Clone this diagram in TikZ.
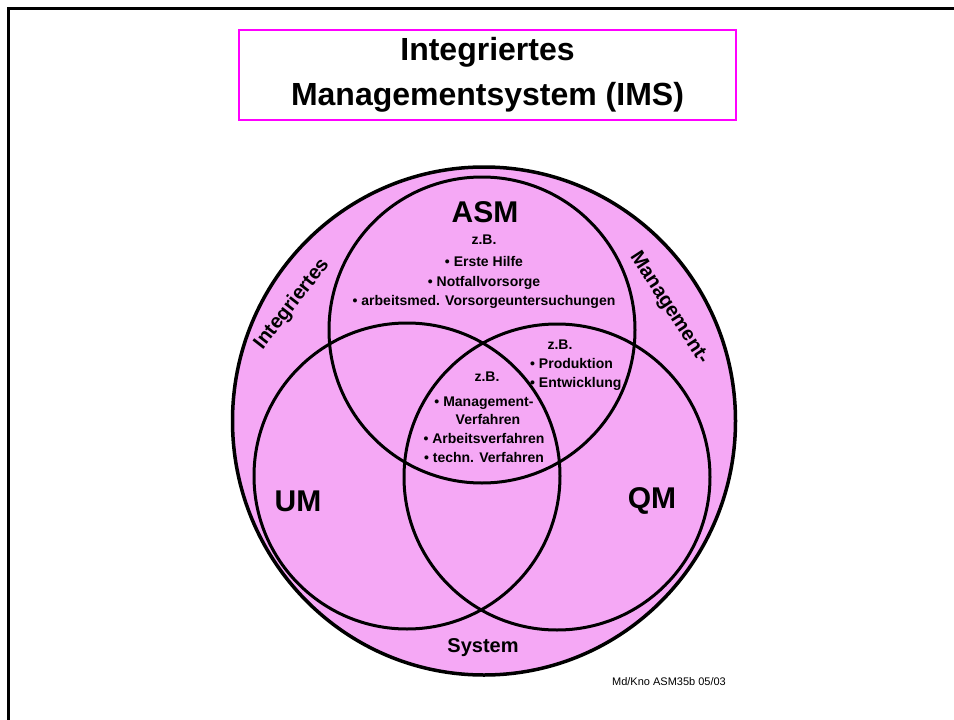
\documentclass[tikz,border=0pt]{standalone}
\usepackage{fontspec}
\setmainfont{Liberation Sans}
\usetikzlibrary{shapes.geometric,positioning}
\definecolor{imspink}{RGB}{245,168,245}
\definecolor{imsmagenta}{RGB}{255,0,255}
\tikzset{
frame/.style = {line width=2.5pt},
titlebox/.style = {draw=imsmagenta, line width=2.5pt, fill=white, rectangle, minimum width=497pt, minimum height=90pt, align=center, font=\fontsize{32}{45}\selectfont\bfseries},
outer/.style = {draw, ellipse, line width=3.5pt, fill=imspink, minimum width=503pt, minimum height=508pt, inner sep=0pt},
ring/.style = {draw, circle, line width=3pt, minimum size=306pt, inner sep=0pt},
setname/.style = {font=\fontsize{30}{36}\selectfont\bfseries},
item/.style = {inner sep=0pt, text height=10pt, text depth=3pt, font=\fontsize{14}{17}\selectfont\bfseries},
arclabel/.style = {inner sep=0pt, font=\fontsize{20}{24}\selectfont\bfseries},
stamp/.style = {font=\fontsize{11}{13}\selectfont}
}

\begin{document}
\begin{tikzpicture}[x=1pt, y=-1pt]
  \useasboundingbox (0,0) rectangle (954,720);
  \draw [frame] (8.5,720) -- (8.5,8.5) -- (954,8.5);

  \node [titlebox]                    (title)   at (487.5,75)  {Integriertes\\Managementsystem (IMS)};

  % the system and its three parts
  \node [outer]                       (ims)     at (484,421)   {};
  \node [ring]                        (asm)     at (482,330)   {};
  \node [ring]                        (um)      at (407,476)   {};
  \node [ring]                        (qm)      at (557,477)   {};

  \node [setname]                     (asmname) at (485,212)   {ASM};
  \node [setname]                     (umname)  at (298,501)   {UM};
  \node [setname]                     (qmname)  at (652,501)   {QM};

  % examples in ASM
  \node [item]                        (asmzb)   at (484,241)   {z.B.};
  \node [item]                        (asma)    at (484,263)   {\textbullet{} Erste Hilfe};
  \node [item]                        (asmb)    at (484,283)   {\textbullet{} Notfallvorsorge};
  \node [item]                        (asmc)    at (484,302)   {\textbullet{} arbeitsmed. Vorsorgeuntersuchungen};

  % examples in ASM and QM
  \node [item]                        (qmzb)    at (560,346)   {z.B.};
  \node [item, anchor=west]           (qma)     at (530,365)   {\textbullet{} Produktion};
  \node [item, anchor=west]           (qmb)     at (530,384)   {\textbullet{} Entwicklung};

  % examples in all three
  \node [item]                        (allzb)   at (487,378)   {z.B.};
  \node [item]                        (alla)    at (484,403)   {\textbullet{} Management-};
  \node [item]                        (allb)    at (488,421)   {Verfahren};
  \node [item]                        (allc)    at (484,440)   {\textbullet{} Arbeitsverfahren};
  \node [item]                        (alld)    at (484,459)   {\textbullet{} techn. Verfahren};

  \node [arclabel, rotate=52]         (word1)   at (292,304)   {Integriertes};
  \node [arclabel, rotate=-57]        (word2)   at (669,308)   {Management-};
  \node [arclabel]                    (word3)   at (483,648)   {System};

  \node [stamp]                       (stamp)   at (669,682)   {Md/Kno ASM35b 05/03};
\end{tikzpicture}
\end{document}
